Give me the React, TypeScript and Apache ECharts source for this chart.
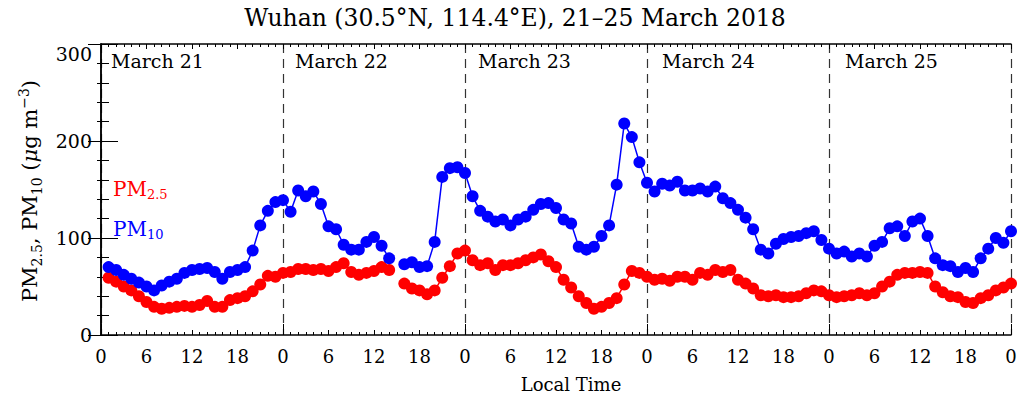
import React, { useEffect, useRef } from "react";
import * as echarts from "echarts";

// Hourly values, local hour 1..120 (21-25 March 2018); null = missing hour
const pm25: (number | null)[] = [
  59, 55, 50, 46, 40, 34, 29, 27, 28, 29, 30, 29, 31, 35, 29, 29, 36, 38, 40, 45, 52, 61, 60, 64,
  65, 68, 68, 67, 68, 66, 70, 74, 65, 62, 64, 66, 70, 67, null, 53, 48, 46, 42, 46, 59, 71, 84, 87,
  77, 72, 74, 67, 72, 72, 74, 77, 80, 83, 76, 70, 57, 49, 40, 33, 27, 29, 33, 38, 52, 66, 64, 60,
  57, 58, 56, 60, 60, 57, 64, 62, 67, 65, 67, 57, 53, 48, 41, 40, 41, 39, 39, 40, 43, 46, 45, 41,
  39, 40, 41, 43, 41, 43, 50, 55, 62, 64, 64, 65, 64, 50, 44, 40, 39, 34, 33, 38, 41, 46, 49, 53,
];
const pm10: (number | null)[] = [
  70, 67, 62, 58, 54, 50, 46, 51, 55, 58, 64, 67, 68, 69, 65, 58, 65, 67, 70, 87, 113, 128, 137, 139,
  127, 149, 143, 148, 135, 112, 109, 93, 88, 88, 96, 101, 92, 79, null, 73, 75, 70, 71, 96, 163, 172, 173, 167,
  143, 128, 122, 117, 119, 113, 119, 122, 129, 135, 136, 131, 119, 115, 91, 88, 91, 102, 113, 155, 218, 204, 178, 157,
  148, 156, 154, 158, 149, 149, 151, 148, 153, 141, 136, 129, 121, 109, 88, 84, 94, 99, 101, 102, 105, 107, 98, 89,
  84, 86, 81, 84, 81, 92, 96, 110, 112, 102, 117, 120, 102, 79, 72, 71, 65, 69, 65, 79, 89, 100, 95, 107,
];
const dayLabels = ["March 21", "March 22", "March 23", "March 24", "March 25"];
const titleText = "Wuhan (30.5°N, 114.4°E), 21–25 March 2018";
const xAxisTitle = "Local Time";

const FONT = "'DejaVu Serif', serif";

export default function App() {
  const ref = useRef<HTMLDivElement>(null);
  useEffect(() => {
    const chart = echarts.init(ref.current!, null, { renderer: "svg" });
    const toData = (arr: (number | null)[]) => arr.map((v, i) => [i + 1, v == null ? "-" : v]);
    const dayLabelX = [111, 295, 478, 662, 845];
    const baseX = {
      type: "value",
      min: 0,
      max: 120,
      splitLine: { show: false },
    };
    const option: any = {
      animation: false,
      backgroundColor: "#fff",
      grid: { left: 101, right: 15, top: 44, bottom: 61 },
      xAxis: [
        {
          ...baseX,
          position: "bottom",
          interval: 6,
          axisLine: { show: true, lineStyle: { color: "#000", width: 1.5 } },
          axisTick: { show: true, inside: true, length: 5, lineStyle: { color: "#000", width: 1 } },
          minorTick: { show: true, splitNumber: 6, length: 3, lineStyle: { color: "#000", width: 1 } },
          axisLabel: {
            show: true,
            margin: 12,
            color: "#000",
            fontSize: 18,
            fontFamily: FONT,
            formatter: (v: number) => String(v % 24),
          },
        },
        {
          ...baseX,
          position: "bottom",
          interval: 24,
          axisLine: { show: false },
          axisTick: { show: true, inside: true, length: 11, lineStyle: { color: "#000", width: 1 } },
          axisLabel: { show: false },
          splitLine: { show: true, lineStyle: { color: "#333", width: 1.2, type: [9, 6] } },
        },
        {
          ...baseX,
          position: "top",
          interval: 6,
          axisLine: { show: true, lineStyle: { color: "#000", width: 1.5 } },
          axisTick: { show: true, inside: true, length: 5, lineStyle: { color: "#000", width: 1 } },
          minorTick: { show: true, splitNumber: 6, length: 3, lineStyle: { color: "#000", width: 1 } },
          axisLabel: { show: false },
        },
      ],
      yAxis: [
        {
          type: "value",
          position: "left",
          min: 0,
          max: 300,
          interval: 100,
          splitLine: { show: false },
          axisLine: { show: true, lineStyle: { color: "#000", width: 1.5 } },
          axisTick: { show: true, inside: true, length: 17, lineStyle: { color: "#000", width: 1 } },
          minorTick: { show: true, splitNumber: 5, length: 8, lineStyle: { color: "#000", width: 1 } },
          axisLabel: {
            show: true,
            margin: 9,
            color: "#000",
            fontSize: 19,
            fontFamily: FONT,
            verticalAlignMaxLabel: "top",
          },
        },
        {
          type: "value",
          position: "right",
          min: 0,
          max: 300,
          interval: 100,
          splitLine: { show: false },
          axisLine: { show: true, lineStyle: { color: "#000", width: 1.5 } },
          axisTick: { show: true, inside: true, length: 13, lineStyle: { color: "#000", width: 1 } },
          minorTick: { show: true, splitNumber: 5, length: 4, lineStyle: { color: "#000", width: 1 } },
          axisLabel: { show: false },
        },
      ],
      series: [
        {
          name: "PM2.5",
          type: "line",
          xAxisIndex: 0,
          yAxisIndex: 0,
          data: toData(pm25),
          symbol: "circle",
          symbolSize: 12,
          showSymbol: true,
          connectNulls: false,
          itemStyle: { color: "#ff0000" },
          lineStyle: { color: "#ff0000", width: 1.5 },
          silent: true,
        },
        {
          name: "PM10",
          type: "line",
          xAxisIndex: 0,
          yAxisIndex: 0,
          data: toData(pm10),
          symbol: "circle",
          symbolSize: 12,
          showSymbol: true,
          connectNulls: false,
          itemStyle: { color: "#0000ff" },
          lineStyle: { color: "#0000ff", width: 1.5 },
          silent: true,
        },
      ],
      graphic: [
        {
          type: "text",
          x: 515,
          y: 18,
          style: {
            text: titleText,
            fontSize: 23.5,
            fontFamily: FONT,
            fill: "#000",
            align: "center",
            verticalAlign: "middle",
          },
        },
        {
          type: "text",
          x: 571,
          y: 384,
          style: {
            text: xAxisTitle,
            fontSize: 18,
            fontFamily: FONT,
            fill: "#000",
            align: "center",
            verticalAlign: "middle",
          },
        },
        ...dayLabels.map((t, i) => ({
          type: "text",
          x: dayLabelX[i],
          y: 61,
          style: {
            text: t,
            fontSize: 19,
            fontFamily: FONT,
            fill: "#000",
            align: "left",
            verticalAlign: "middle",
          },
        })),
        {
          type: "text",
          x: 113,
          y: 189,
          style: {
            text: "{m|PM}{s|2.5}",
            align: "left",
            verticalAlign: "middle",
            rich: {
              m: { fontSize: 20, fontFamily: FONT, fill: "#ff0000", lineHeight: 24 },
              s: { fontSize: 13, fontFamily: FONT, fill: "#ff0000", lineHeight: 13, verticalAlign: "bottom" },
            },
          },
        },
        {
          type: "text",
          x: 113,
          y: 229,
          style: {
            text: "{m|PM}{s|10}",
            align: "left",
            verticalAlign: "middle",
            rich: {
              m: { fontSize: 20, fontFamily: FONT, fill: "#0000ff", lineHeight: 24 },
              s: { fontSize: 13, fontFamily: FONT, fill: "#0000ff", lineHeight: 13, verticalAlign: "bottom" },
            },
          },
        },
        {
          type: "text",
          x: 30,
          y: 191,
          rotation: Math.PI / 2,
          style: {
            text: "{a|PM}{s|2.5}{a|, PM}{s|10}{a| (}{i|μ}{a|g m}{p|−3}{a|)}",
            align: "center",
            verticalAlign: "middle",
            rich: {
              a: { fontSize: 21, fontFamily: FONT, fill: "#000", lineHeight: 27 },
              i: { fontSize: 21, fontFamily: FONT, fontStyle: "italic", fill: "#000", lineHeight: 27 },
              s: { fontSize: 14, fontFamily: FONT, fill: "#000", lineHeight: 14, verticalAlign: "bottom" },
              p: { fontSize: 14, fontFamily: FONT, fill: "#000", lineHeight: 14, verticalAlign: "top" },
            },
          },
        },
      ],
    };
    chart.setOption(option);
    return () => chart.dispose();
  }, []);
  return (
    <div
      ref={ref}
      style={{ position: "fixed", left: 0, top: 0, width: 1026, height: 396, background: "#fff" }}
    />
  );
}
